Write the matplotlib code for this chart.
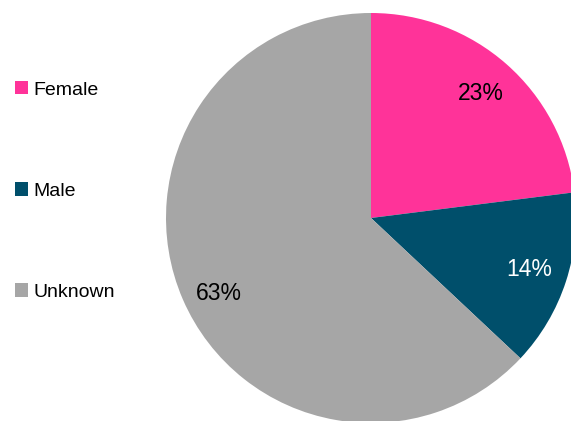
import matplotlib.pyplot as plt

plt.rcParams['font.family'] = ['Liberation Sans', 'DejaVu Sans']

# gender split
labels = ['Female', 'Male', 'Unknown']
shares = [23, 14, 63]
colors = ['#FF3399', '#004F6B', '#A6A6A6']
pct_colors = ['black', 'white', 'black']

W, H = 571, 421
fig = plt.figure(figsize=(W / 100, H / 100), dpi=100)
ax = fig.add_axes([0, 0, 1, 1])

wedges, texts, autotexts = ax.pie(
    shares, colors=colors, startangle=90, counterclock=False,
    center=(371, H - 218), radius=205, frame=True,
    autopct='%1.0f%%', pctdistance=0.81,
    wedgeprops=dict(linewidth=0),
    textprops=dict(fontsize=16.5))
for t, c in zip(autotexts, pct_colors):
    t.set_color(c)
# the big grey slice carries its label a little lower
x, y = autotexts[2].get_position()
autotexts[2].set_position((x, y - 10))

ax.set_xlim(0, W)
ax.set_ylim(0, H)
ax.set_aspect('equal')
ax.axis('off')

leg = fig.legend(wedges, labels, loc='center left',
                 bbox_to_anchor=(15 / W, 1 - 191 / H),
                 frameon=False, fontsize=14, borderpad=0, borderaxespad=0,
                 labelspacing=4.3, handlelength=0.67, handleheight=0.67,
                 handletextpad=0.3)

fig.savefig('out.png', dpi=100)
